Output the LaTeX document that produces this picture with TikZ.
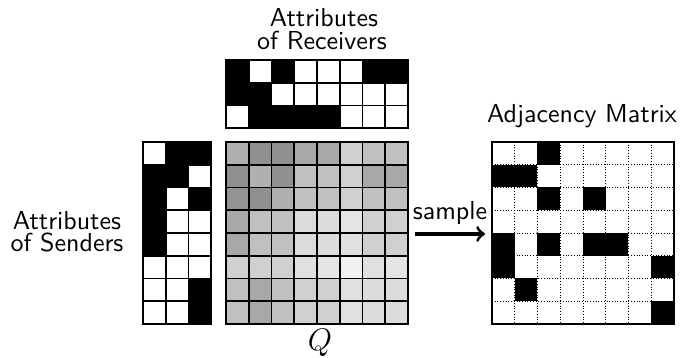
\documentclass[tikz,border=0pt]{standalone}
\usepackage{tikz}
\tikzset{
  lbl/.style={font=\sffamily, inner sep=0pt, anchor=base},
  cellline/.style={line width=0.6pt, draw=black},
  dotline/.style={line width=0.35pt, draw=black, dash pattern=on 0.35pt off 0.7pt},
  frameline/.style={line width=0.7pt, draw=black},
}
\def\cs{22.75}
\begin{document}
\begin{tikzpicture}[x=0.385pt,y=-0.385pt]
\useasboundingbox (0,0) rectangle (682,358);
% ---------- Receivers (3 x 8) ----------
\foreach \row [count=\r from 0] in {{1,0,1,0,0,0,1,1},{1,1,0,0,0,0,0,0},{0,1,1,1,1,0,0,0}}{
  \foreach \v [count=\c from 0] in \row {
    \ifnum\v=1 \fill[black] (226+\c*\cs,60+\r*\cs) rectangle ++(\cs,\cs);\fi
  }
}
\foreach \i in {0,...,8} \draw[cellline] (226+\i*\cs,60) -- ++(0,3*\cs);
\foreach \j in {0,...,3} \draw[cellline] (226,60+\j*\cs) -- ++(8*\cs,0);
\draw[cellline, line join=miter] (226,60) rectangle ++(8*\cs,3*\cs);
% ---------- Senders (8 x 3) ----------
\foreach \row [count=\r from 0] in {{0,1,1},{1,1,0},{1,0,1},{1,0,0},{1,0,0},{0,0,0},{0,0,1},{0,0,1}}{
  \foreach \v [count=\c from 0] in \row {
    \ifnum\v=1 \fill[black] (143+\c*\cs,142+\r*\cs) rectangle ++(\cs,\cs);\fi
  }
}
\foreach \i in {0,...,3} \draw[cellline] (143+\i*\cs,142) -- ++(0,8*\cs);
\foreach \j in {0,...,8} \draw[cellline] (143,142+\j*\cs) -- ++(3*\cs,0);
\draw[cellline, line join=miter] (143,142) rectangle ++(3*\cs,8*\cs);
% ---------- Q (8 x 8 grey) ----------
\foreach \row [count=\r from 0] in {
  {.69,.565,.565,.659,.659,.816,.753,.753},
  {.565,.69,.565,.753,.753,.816,.659,.659},
  {.58,.565,.69,.753,.753,.816,.753,.753},
  {.659,.753,.753,.863,.863,.894,.816,.816},
  {.659,.753,.753,.863,.863,.878,.816,.816},
  {.816,.816,.816,.878,.894,.941,.878,.894},
  {.753,.659,.753,.816,.816,.878,.863,.863},
  {.753,.659,.753,.816,.816,.878,.863,.863}}{
  \foreach \v [count=\c from 0] in \row {
    \pgfmathsetmacro\p{100-100*\v}
    \fill[black!\p] (226+\c*\cs,142+\r*\cs) rectangle ++(\cs,\cs);
  }
}
\foreach \i in {0,...,8} \draw[cellline] (226+\i*\cs,142) -- ++(0,8*\cs);
\foreach \j in {0,...,8} \draw[cellline] (226,142+\j*\cs) -- ++(8*\cs,0);
\draw[cellline, line join=miter] (226,142) rectangle ++(8*\cs,8*\cs);
% ---------- Adjacency (8 x 8) ----------
\foreach \row [count=\r from 0] in {
  {0,0,1,0,0,0,0,0},{1,1,0,0,0,0,0,0},{0,0,1,0,1,0,0,0},{0,0,0,0,0,0,0,0},
  {1,0,1,0,1,1,0,0},{1,0,0,0,0,0,0,1},{0,1,0,0,0,0,0,0},{0,0,0,0,0,0,0,1}}{
  \foreach \v [count=\c from 0] in \row {
    \ifnum\v=1 \fill[black] (492+\c*\cs,142+\r*\cs) rectangle ++(\cs,\cs);\fi
  }
}
\foreach \i in {1,...,7} \draw[dotline] (492+\i*\cs,142) -- ++(0,8*\cs);
\foreach \j in {1,...,7} \draw[dotline] (492,142+\j*\cs) -- ++(8*\cs,0);
\draw[frameline, line join=miter] (492,142) rectangle ++(8*\cs,8*\cs);
% ---------- labels ----------
\node[lbl] (recv1) at (324,27) {Attributes};
\node[lbl] (recv2) at (322,50) {of Receivers};
\node[lbl] (send1) at (67,230) {Attributes};
\node[lbl] (send2) at (67,252) {of Senders};
\node[lbl] (adjl) at (582,123) {Adjacency Matrix};
\node[inner sep=0pt, anchor=base, font=\fontsize{12.5}{14}\selectfont] (qlbl) at (320,351) {$Q$};
\node[lbl] (samp) at (450,220) {sample};
% ---------- arrow ----------
\coordinate (arrS) at (415,234);
\coordinate (arrE) at (485,234);
\draw[line width=1.2pt, ->] (arrS) -- (arrE);
\end{tikzpicture}
\end{document}
